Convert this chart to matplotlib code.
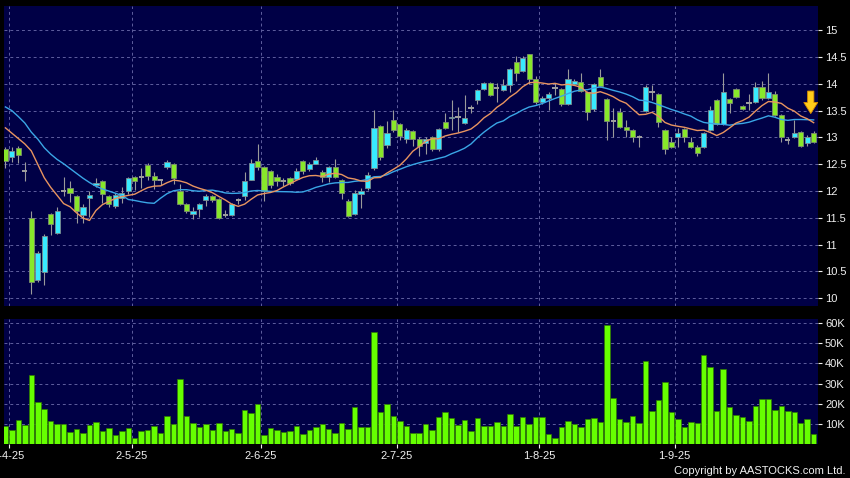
import matplotlib
matplotlib.use('Agg')
import matplotlib.pyplot as plt
import numpy as np
import pandas as pd

# ---------------- data ----------------
opens = [12.78, 12.63, 12.80, 12.38, 11.49, 10.34, 10.49, 11.57, 11.21, 12.00,
         12.06, 11.90, 11.55, 11.88, 12.11, 12.18, 11.90, 11.72, 11.88, 12.00,
         12.26, 12.26, 12.48, 12.29, 12.21, 12.44, 12.50, 12.01, 11.76, 11.57,
         11.66, 11.83, 11.91, 11.85, 11.55, 11.55, 11.83, 11.91, 12.21, 12.56,
         12.44, 12.38, 12.27, 12.18, 12.24, 12.22, 12.56, 12.42, 12.50, 12.36,
         12.27, 12.44, 12.21, 11.82, 11.57, 11.95, 12.05, 12.43, 13.21, 12.86,
         13.33, 13.25, 12.98, 13.12, 12.98, 12.89, 13.01, 12.78, 13.28, 13.36,
         13.38, 13.27, 13.55, 13.70, 13.90, 14.02, 13.93, 13.89, 13.98, 14.40,
         14.24, 14.55, 14.10, 13.67, 13.73, 13.92, 13.90, 13.63, 14.00, 14.03,
         13.84, 13.54, 14.13, 13.71, 13.31, 13.48, 13.19, 13.14, 13.00, 13.49,
         13.84, 13.81, 13.14, 12.92, 13.00, 13.15, 12.92, 12.83, 12.83, 13.14,
         13.70, 13.26, 13.71, 13.90, 13.59, 13.65, 13.67, 13.95, 13.73, 13.81,
         13.42, 12.95, 13.01, 13.11, 12.89, 13.09]
closes = [12.56, 12.75, 12.67, 12.38, 10.30, 10.85, 11.16, 11.38, 11.62, 12.00,
          11.96, 11.62, 11.70, 11.93, 12.16, 11.94, 11.76, 11.93, 11.96, 12.24,
          12.18, 12.26, 12.28, 12.21, 12.21, 12.54, 12.24, 11.76, 11.63, 11.63,
          11.75, 11.91, 11.83, 11.50, 11.55, 11.76, 11.83, 12.18, 12.53, 12.44,
          12.01, 12.11, 12.19, 12.18, 12.16, 12.37, 12.37, 12.50, 12.58, 12.26,
          12.44, 12.27, 11.96, 11.54, 11.96, 12.00, 12.30, 13.17, 12.64, 13.08,
          13.14, 13.02, 13.14, 12.98, 12.84, 12.98, 12.78, 13.15, 13.17, 13.39,
          13.38, 13.36, 13.55, 13.89, 14.01, 13.79, 13.93, 13.97, 14.27, 14.20,
          14.49, 14.10, 13.67, 13.73, 13.82, 13.92, 13.63, 14.09, 14.06, 13.87,
          13.47, 13.99, 13.96, 13.31, 13.31, 13.19, 13.14, 13.00, 13.00, 13.95,
          13.84, 13.28, 12.78, 12.83, 13.08, 13.00, 12.83, 12.71, 13.08, 13.51,
          13.26, 13.84, 13.64, 13.75, 13.53, 13.65, 13.95, 13.73, 13.85, 13.42,
          13.00, 12.95, 13.09, 12.84, 13.01, 12.92]
highs = [12.83, 12.82, 12.84, 12.55, 11.62, 10.88, 11.20, 11.60, 11.70, 12.26,
         12.19, 11.92, 11.75, 12.00, 12.24, 12.21, 11.93, 11.96, 12.07, 12.26,
         12.28, 12.43, 12.53, 12.35, 12.22, 12.58, 12.52, 12.14, 11.78, 11.70,
         11.78, 11.95, 11.93, 11.87, 11.65, 11.78, 11.88, 12.36, 12.60, 12.87,
         12.46, 12.40, 12.32, 12.25, 12.27, 12.43, 12.58, 12.54, 12.64, 12.40,
         12.46, 12.60, 12.22, 11.86, 12.02, 12.05, 12.36, 13.51, 13.23, 13.30,
         13.51, 13.27, 13.18, 13.14, 13.00, 13.00, 13.03, 13.18, 13.45, 13.70,
         13.57, 13.80, 13.60, 13.91, 14.03, 14.04, 14.01, 14.10, 14.29, 14.52,
         14.52, 14.56, 14.15, 13.78, 13.84, 14.02, 13.93, 14.27, 14.09, 14.20,
         13.86, 14.02, 14.28, 13.73, 13.55, 13.55, 13.33, 13.16, 13.05, 13.97,
         13.98, 13.83, 13.16, 13.00, 13.17, 13.18, 13.00, 12.86, 13.10, 13.58,
         13.72, 14.21, 13.73, 13.92, 13.61, 13.82, 14.04, 14.06, 14.21, 13.86,
         13.44, 13.00, 13.32, 13.13, 13.05, 13.12]
lows = [12.43, 12.55, 12.52, 12.18, 10.08, 10.30, 10.25, 11.18, 11.20, 11.90,
        11.80, 11.40, 11.40, 11.51, 12.08, 11.77, 11.70, 11.68, 11.77, 11.95,
        12.02, 12.05, 12.20, 12.04, 12.12, 12.42, 12.14, 11.74, 11.60, 11.48,
        11.52, 11.72, 11.80, 11.48, 11.52, 11.53, 11.76, 11.83, 12.20, 12.40,
        11.82, 12.05, 12.10, 12.10, 12.12, 12.20, 12.32, 12.37, 12.50, 12.17,
        12.17, 12.24, 11.85, 11.52, 11.55, 11.69, 12.02, 12.40, 12.58, 12.80,
        13.10, 12.95, 12.90, 12.85, 12.66, 12.70, 12.75, 12.74, 13.15, 13.14,
        13.11, 13.25, 13.45, 13.63, 13.88, 13.77, 13.66, 13.87, 13.85, 14.05,
        14.22, 14.00, 13.63, 13.62, 13.52, 13.80, 13.58, 13.60, 13.98, 13.85,
        13.33, 13.50, 13.94, 12.96, 13.01, 13.17, 13.00, 12.92, 12.83, 13.47,
        13.70, 13.20, 12.69, 12.80, 12.83, 12.92, 12.80, 12.65, 12.81, 13.12,
        13.24, 13.24, 13.46, 13.73, 13.51, 13.51, 13.65, 13.70, 13.71, 13.40,
        12.92, 12.88, 12.99, 12.82, 12.84, 12.90]
volumes_k = [8.8, 6.8, 11.8, 9.2, 34.3, 21.0, 17.4, 11.6, 10.1, 9.8,
             5.8, 7.7, 5.3, 9.2, 11.0, 6.5, 7.8, 4.5, 6.7, 8.0,
             3.2, 6.7, 7.2, 8.7, 5.7, 14.1, 9.7, 32.4, 13.8, 10.6,
             8.3, 9.8, 7.2, 10.5, 6.3, 7.7, 5.5, 16.9, 15.6, 20.0,
             4.4, 8.0, 7.2, 6.0, 6.5, 8.8, 5.2, 7.2, 8.3, 10.1,
             7.3, 5.7, 10.6, 7.5, 18.6, 8.2, 8.2, 55.7, 15.7, 20.0,
             14.1, 11.6, 9.0, 5.7, 5.7, 9.7, 6.8, 13.5, 15.7, 13.1,
             9.3, 12.1, 6.5, 13.0, 8.8, 9.0, 11.0, 8.7, 14.9, 8.8,
             13.5, 9.8, 13.5, 13.3, 5.2, 3.2, 8.2, 11.3, 10.1, 8.5,
             12.5, 12.8, 11.1, 59.2, 23.0, 12.6, 10.8, 14.1, 10.5, 41.3,
             16.4, 22.0, 30.8, 16.1, 12.3, 8.5, 11.0, 10.5, 44.2, 38.4,
             16.6, 37.2, 18.2, 14.6, 13.5, 11.6, 18.9, 22.2, 22.2, 16.7,
             19.1, 16.4, 15.7, 10.6, 12.3, 5.2]
# moving-average values at the start of the window (their earlier data is off-chart)
ma10_head = [13.18, 13.08, 12.98, 12.88, 12.75, 12.50, 12.25, 12.07, 11.92]
ma20_head = [13.57, 13.50, 13.39, 13.27, 13.10, 12.97, 12.81, 12.69, 12.59, 12.51,
             12.42, 12.33, 12.24, 12.16, 12.09, 12.04, 12.00, 11.96, 11.92]
month_start_idx = [1, 20, 40, 61, 83, 104]
month_labels = ['1-4-25', '2-5-25', '2-6-25', '2-7-25', '1-8-25', '1-9-25']
price_ticks = [10, 10.5, 11, 11.5, 12, 12.5, 13, 13.5, 14, 14.5, 15]
price_tick_labels = ['10', '10.5', '11', '11.5', '12', '12.5', '13', '13.5', '14', '14.5', '15']
vol_ticks = [10, 20, 30, 40, 50, 60]
vol_tick_labels = ['10K', '20K', '30K', '40K', '50K', '60K']

# ---------------- styling ----------------
FONT = 'Liberation Sans'
BG = 'black'
PANEL = '#000046'
GRID = '#5e5e9e'
CYAN = '#38eaff'
GREEN = '#88e82a'
DOJI = '#a0a0a0'
WICK = '#9a9a9a'
TXT = '#f0f0f0'

o = np.array(opens); c = np.array(closes)
h = np.array(highs); l = np.array(lows)
idx = np.arange(len(o))

s = pd.Series(c)
ma10 = s.rolling(10).mean().to_numpy()
ma10[:len(ma10_head)] = ma10_head
ma20 = s.rolling(20).mean().to_numpy()
ma20[:len(ma20_head)] = ma20_head

W, H = 850, 478
fig = plt.figure(figsize=(W / 100, H / 100), dpi=100, facecolor=BG)
ax = fig.add_axes([4 / W, 1 - 306 / H, 814 / W, 300 / H])
axv = fig.add_axes([4 / W, 1 - 444 / H, 814 / W, 125 / H])

xlim = (-0.22, 125.67)
for a in (ax, axv):
    a.set_facecolor(PANEL)
    for sp in a.spines.values():
        sp.set_visible(False)
    a.set_xlim(*xlim)
    a.set_xticks([p - 0.5 for p in month_start_idx])
    a.grid(True, color=GRID, linestyle=(0, (3, 3)), linewidth=0.7)
    a.set_axisbelow(True)
    a.yaxis.tick_right()
    a.tick_params(axis='y', colors=TXT, labelcolor=TXT, length=3, width=0.8,
                  pad=2, labelsize=8, labelfontfamily=FONT)

# ---- price panel ----
ax.set_ylim(9.856, 15.453)
ax.set_yticks(price_ticks)
ax.set_yticklabels(price_tick_labels)
ax.tick_params(axis='x', length=0, labelbottom=False)

up = c > o
down = c < o
flat = c == o
ax.vlines(idx, l, h, color=WICK, linewidth=0.8, zorder=2)
bw = 0.8
ax.bar(idx[up], (c - o)[up], bottom=o[up], width=bw, color=CYAN,
       edgecolor='#7c8c90', linewidth=0.6, zorder=3)
ax.bar(idx[down], (o - c)[down], bottom=c[down], width=bw, color=GREEN,
       edgecolor='#7c8c70', linewidth=0.6, zorder=3)
ax.hlines(c[flat], idx[flat] - bw / 2, idx[flat] + bw / 2, color=DOJI,
          linewidth=1.4, zorder=3)

ax.plot(idx, ma20, color='#3aa6e6', linewidth=1.0, zorder=4)
ax.plot(idx, ma10, color='#e89460', linewidth=1.0, zorder=5)

# signal arrow above the last bar
xa = idx[-1] - 0.45
tip = ma10[-1] + 0.17
ax.annotate('', xy=(xa, tip), xytext=(xa, tip + 0.42),
            arrowprops=dict(facecolor='#ffcc1a', edgecolor='#d98c00',
                            width=4.5, headwidth=10, headlength=8, shrink=0,
                            linewidth=0.6), zorder=6)

# ---- volume panel ----
axv.set_ylim(0, 62.1)
axv.set_yticks(vol_ticks)
axv.set_yticklabels(vol_tick_labels)
axv.bar(idx, volumes_k, width=0.85, color='#66ff00', edgecolor='#2f7a00',
        linewidth=0.5, zorder=3)
axv.set_xticklabels(month_labels)
axv.tick_params(axis='x', colors=TXT, labelcolor=TXT, length=3, width=0.8,
                pad=2, labelsize=8, labelfontfamily=FONT)

fig.text(845 / W, 1 - 471 / H, 'Copyright by AASTOCKS.com Ltd.', ha='right',
         va='center', color=TXT, fontsize=8, family=FONT)

fig.savefig('out.png', dpi=100, facecolor=BG)
